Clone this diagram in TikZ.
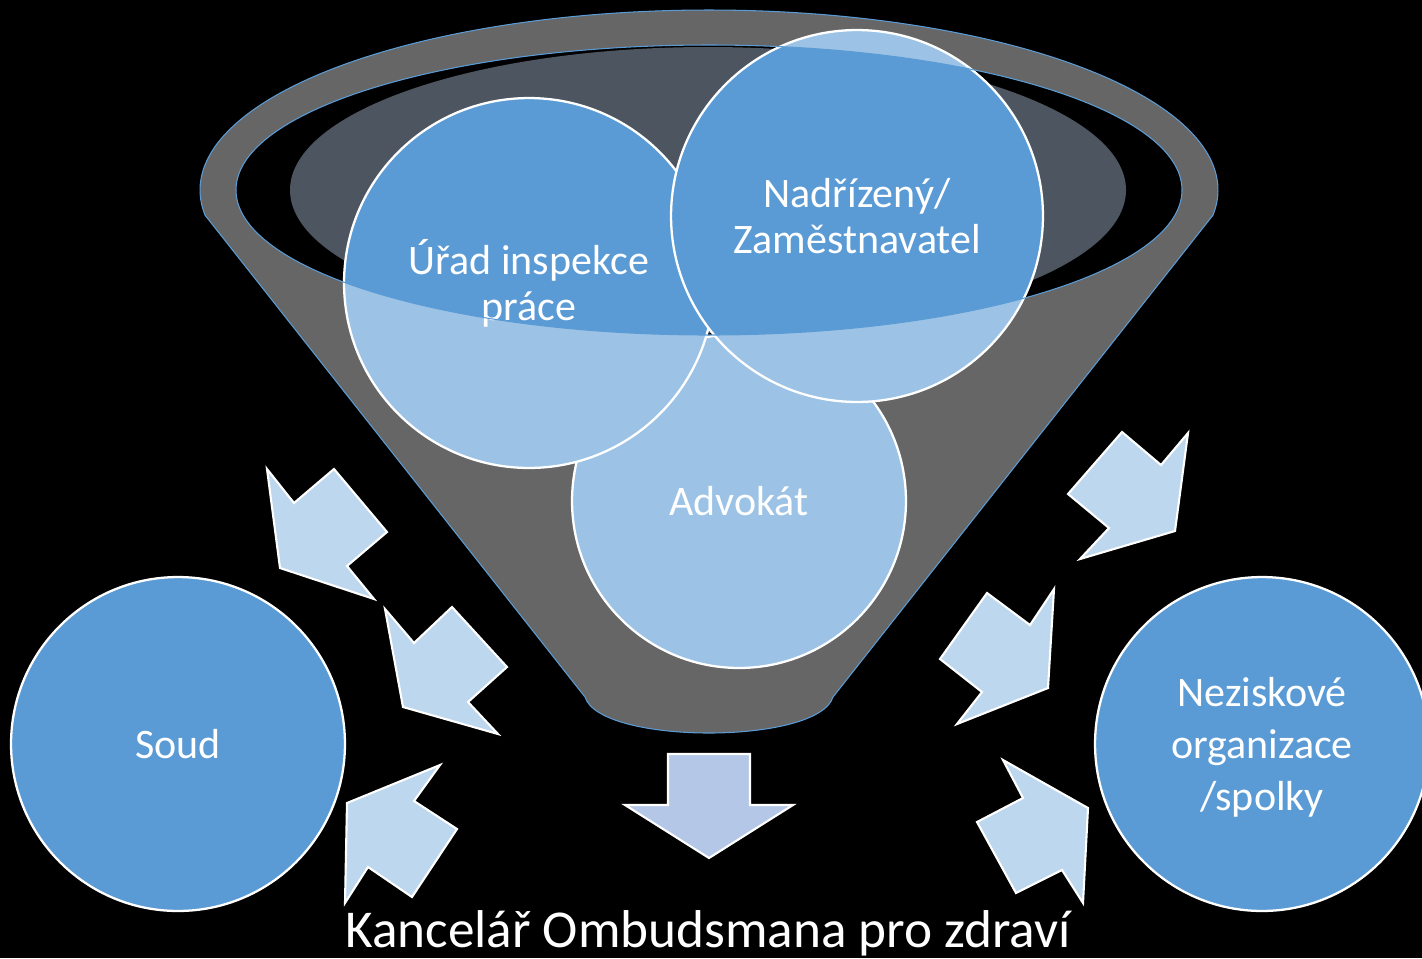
\documentclass[tikz,border=0pt]{standalone}
\usepackage{fontspec}
\setmainfont{Carlito}
\definecolor{cblue}{RGB}{91,155,213}
\definecolor{darkell}{RGB}{77,85,96}
\definecolor{arrowfill}{RGB}{189,215,238}
\definecolor{downfill}{RGB}{180,199,231}
\tikzset{
  bubble/.style={circle, fill=cblue, draw=white, line width=1.3pt, text=white, align=center, inner sep=0pt},
  funnelbody/.style={fill=white, fill opacity=0.4, draw=cblue, line width=0.6pt, even odd rule},
  blockarrow/.style={fill=arrowfill, draw=white, line width=1.2pt, line join=miter},
  downarrow/.style={fill=downfill, draw=white, line width=1.2pt, line join=miter},
  lbl/.style={font=\fontsize{23.9}{26.2}\selectfont},
  lblwide/.style={font=\fontsize{23.9}{29.5}\selectfont}
}
\begin{document}
\begin{tikzpicture}[x=0.02cm,y=-0.02cm]
\fill[black] (0,0) rectangle (1422,958);
\useasboundingbox (0,0) rectangle (1422,958);
% dark inner surface
\fill[darkell] (708,190) ellipse [x radius=418, y radius=143];
% circles inside funnel
\node[bubble, lbl, minimum size=6.68cm] (advokat) at (739,501) {Advokát};
\node[bubble, lbl, minimum size=7.4cm] (urad) at (529,283) {Úřad inspekce\\práce};
\node[bubble, lbl, minimum size=7.44cm] (nadr) at (857,216) {Nadřízený/\\Zaměstnavatel};
% funnel (translucent)
\path[funnelbody] plot[domain=172:368, samples=80, smooth] ({709+509*cos(\x)},{190+180*sin(\x)})
   -- (833,697) .. controls (818,745) and (600,745) .. (585,697) -- cycle
   (709,190) ellipse [x radius=473, y radius=145];
% side circles
\node[bubble, lbl, minimum size=6.68cm] (soud) at (178,744) {Soud};
\node[bubble, minimum size=6.68cm] (nezisk) at (1262,744) {};
\node[lblwide, text=white, align=center, inner sep=0pt] (neziskText) at (1262,747) {Neziskové\\organizace\\/spolky};
% left arrows
\draw[blockarrow] (267,469) -- (294,503) -- (334,469) -- (387,532) -- (347,566) -- (374,599) -- (280,568) -- cycle;
\draw[blockarrow] (385,609) -- (414,643) -- (452,607) -- (507,667) -- (468,702) -- (498,734) -- (403,707) -- cycle;
\draw[blockarrow] (440,765) -- (414,801) -- (457,829) -- (412,897) -- (368,867) -- (345,903) -- (347,803) -- cycle;
% right arrows
\draw[blockarrow] (1122,432) -- (1161,465) -- (1188,433) -- (1175,531) -- (1080,559) -- (1109,528) -- (1068,494) -- cycle;
\draw[blockarrow] (987,593) -- (1030,625) -- (1054,589) -- (1048,688) -- (957,724) -- (982,692) -- (940,659) -- cycle;
\draw[blockarrow] (1003,760) -- (1088,808) -- (1083,903) -- (1062,870) -- (1016,893) -- (977,822) -- (1023,798) -- cycle;
% down arrow
\draw[downarrow] (668,754) -- (750,754) -- (750,805) -- (793,805) -- (709,858) -- (625,805) -- (668,805) -- cycle;
% bottom label
\node[anchor=base, text=white, font=\fontsize{30.3}{34}\selectfont, inner sep=0pt] (title) at (708,947) {Kancelář Ombudsmana pro zdraví};
\end{tikzpicture}
\end{document}
